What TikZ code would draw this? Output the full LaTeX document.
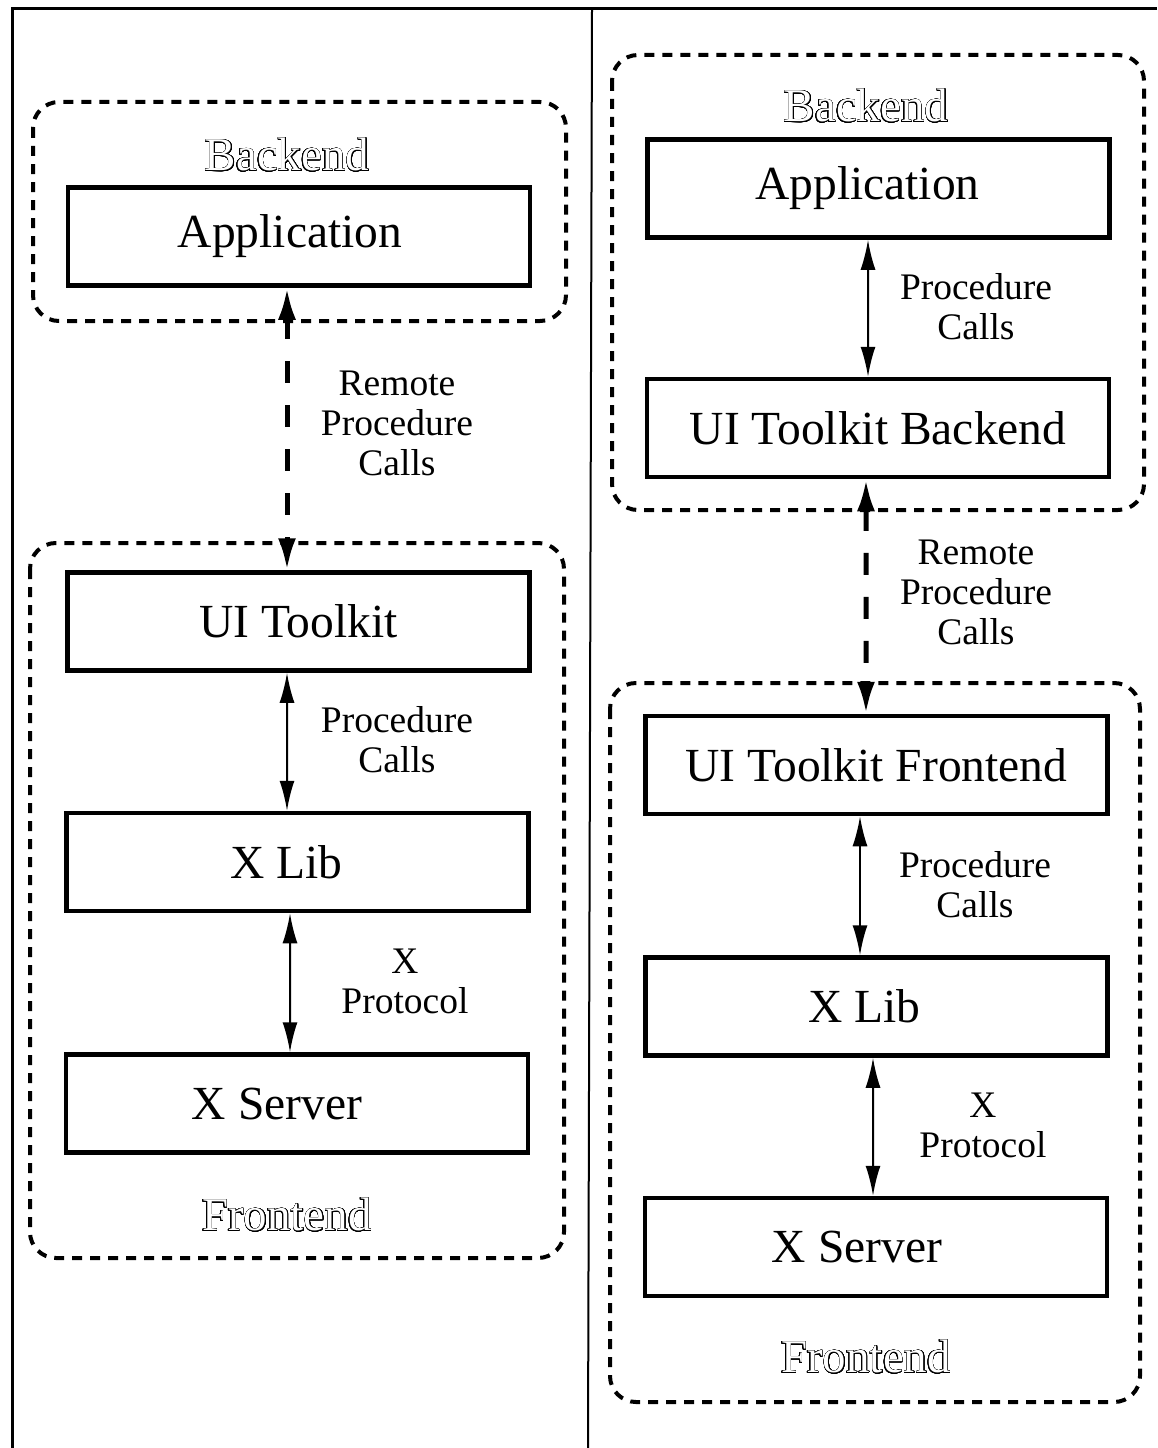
\documentclass[tikz,border=0pt]{standalone}
\usepackage{fontspec}
\setmainfont{Liberation Serif}
\usepackage{contour}
\contournumber{32}
\contourlength{0.6pt}
\usetikzlibrary{arrows.meta}

\tikzset{
  box/.style={draw, line width=4.5bp, minimum width=462bp, minimum height=98bp,
    inner sep=0pt, font=\fontsize{47.5bp}{50bp}\selectfont},
  % move a box's caption left by half the given amount
  tshift/.style={execute at begin node={\hspace*{-#1}}},
  grp/.style={line width=4bp, dash pattern=on 10bp off 8bp, rounded corners=26bp},
  lbl/.style={align=center, inner sep=0pt, font=\fontsize{37.5bp}{40bp}\selectfont},
  zone/.style={inner sep=0pt, font=\fontsize{47bp}{49bp}\selectfont},
  call/.style={line width=2bp, {Latex[length=30bp,width=15bp]}-{Latex[length=30bp,width=15bp]}},
  rpc/.style={line width=5bp, dash pattern=on 22bp off 22bp,
    {Latex[length=32bp,width=18bp]}-{Latex[length=32bp,width=18bp]}},
  frame/.style={line width=3bp}
}
\newcommand{\hollow}[1]{\contour{black}{\textcolor{white}{#1}}}

\begin{document}
\begin{tikzpicture}[x=1bp,y=-1bp]
\useasboundingbox (0,0) rectangle (1157,1448);

% page frame and column rule
\draw[frame] (12,1448) -- (12,9) -- (1157,9);
\draw[line width=2bp] (592,9) -- (588,1448);

% ---------------- left column ----------------
\draw[grp] (33,102) rectangle (566,321);
\draw[grp] (30,543) rectangle (564,1258);

\node[zone] (lbk) at (287,155) {\hollow{Backend}};
\node[zone] (lfe) at (287,1215) {\hollow{Frontend}};

\node[box, tshift=18bp] (lapp) at (299,236.5) {Application};
\node[box] (lui)  at (298.5,621.5) {UI Toolkit};
\node[box, tshift=22bp] (lxl)  at (297.5,862) {X Lib};
\node[box, tshift=40bp] (lxs)  at (297,1103.5) {X Server};

\draw[rpc]  ([xshift=-12bp]lapp.south) -- ([xshift=-11.5bp]lui.north);
\draw[call] ([xshift=-11.5bp]lui.south) -- ([xshift=-10.5bp]lxl.north);
\draw[call] ([xshift=-7.5bp]lxl.south) -- ([xshift=-7bp]lxs.north);

\node[lbl] (lrpc) at (397,423) {Remote\\Procedure\\Calls};
\node[lbl] (lpc)  at (397,740) {Procedure\\Calls};
\node[lbl] (lxp)  at (405,981) {X\\Protocol};

% ---------------- right column ----------------
\draw[grp] (612,55) rectangle (1144,510);
\draw[grp] (610,683) rectangle (1140,1402);

\node[zone] (rbk) at (866,106) {\hollow{Backend}};
\node[zone] (rfe) at (866,1357) {\hollow{Frontend}};

\node[box, tshift=22bp] (rapp) at (878.5,188.5) {Application};
\node[box] (ruib) at (878,428) {UI Toolkit Backend};
\node[box] (ruif) at (876.5,765) {UI Toolkit Frontend};
\node[box, tshift=24bp] (rxl)  at (876.5,1006.5) {X Lib};
\node[box, tshift=38bp] (rxs)  at (876,1247) {X Server};

\draw[call] ([xshift=-10.5bp]rapp.south) -- ([xshift=-10bp]ruib.north);
\draw[rpc]  ([xshift=-12bp]ruib.south) -- ([xshift=-10.5bp]ruif.north);
\draw[call] ([xshift=-16.5bp]ruif.south) -- ([xshift=-16.5bp]rxl.north);
\draw[call] ([xshift=-3.5bp]rxl.south) -- ([xshift=-3bp]rxs.north);

\node[lbl] (rpc1) at (976,307) {Procedure\\Calls};
\node[lbl] (rrpc) at (976,592) {Remote\\Procedure\\Calls};
\node[lbl] (rpc2) at (975,885) {Procedure\\Calls};
\node[lbl] (rxp)  at (983,1125) {X\\Protocol};
\end{tikzpicture}
\end{document}
